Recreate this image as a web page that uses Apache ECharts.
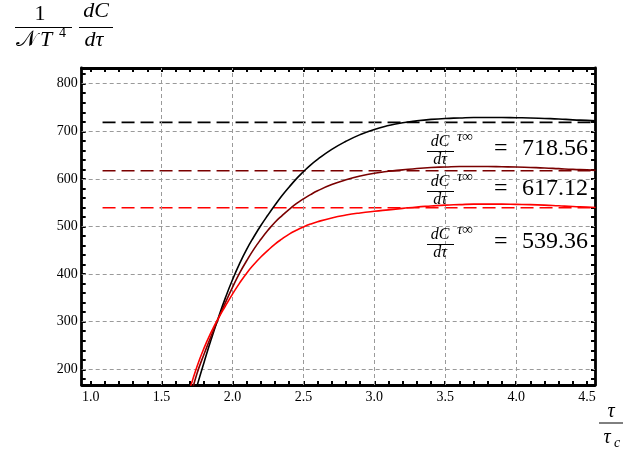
<!DOCTYPE html>
<html>
<head>
<meta charset="utf-8">
<script src="https://cdn.jsdelivr.net/npm/echarts@6/dist/echarts.min.js"></script>
<style>
  html, body { margin: 0; padding: 0; background: #ffffff; }
  #chart { width: 641px; height: 457px; }
</style>
</head>
<body>
<div id="chart"></div>
<script>
// Specific heat slope curves dC/dτ (normalised by N T^4) versus τ/τ_c
const tauSamples = [1.70, 1.75, 1.80, 1.85, 1.90, 1.95, 2.00, 2.05, 2.10, 2.15, 2.20, 2.25, 2.30, 2.35, 2.40, 2.45, 2.50,
                    2.55, 2.60, 2.70, 2.80, 2.90, 3.00, 3.10, 3.20, 3.30, 3.40, 3.50, 3.60, 3.70, 3.80, 3.90, 4.00,
                    4.10, 4.20, 4.30, 4.40, 4.50, 4.56];
const valBlack   = [112, 165, 215, 263, 308, 350, 388, 422, 452, 478, 502, 524, 545, 565, 583, 600, 615,
                    629, 641, 662, 679, 693, 704, 712, 718, 722, 725, 727, 728, 729, 729, 729, 728.5,
                    728, 727, 726, 724, 723, 722];
const valDarkRed = [137, 191, 232, 270, 306, 340, 372, 402, 428, 452, 473, 492, 509, 523, 536, 548, 558,
                    567, 575, 588, 598, 606, 612, 616, 619, 622, 624, 625, 626, 626, 626, 625.5, 625,
                    624, 623, 621.5, 620, 619, 618];
const valRed     = [159, 206, 245, 278, 307, 333, 358, 381, 402, 420, 436, 450, 463, 474, 484, 492, 499,
                    505, 510, 518, 524, 528.5, 532, 535, 538, 541, 543, 545, 546, 547, 547, 547, 546.5,
                    546, 545, 543.5, 542, 541, 540];

// Asymptotic values (τ → ∞), in the same order as the curves
const asymptotes = [718.56, 617.12, 539.36];
const asymptoteTau = [1.084, 4.556];

// Axis ranges and tick values
const tauRange = [0.937, 4.556];
const valRange = [167, 833];
const xLabelValues = [1.0, 1.5, 2.0, 2.5, 3.0, 3.5, 4.0, 4.5];
const yLabelValues = [200, 300, 400, 500, 600, 700, 800];
const xTickValues = [1.0, 1.1, 1.2, 1.3, 1.4, 1.5, 1.6, 1.7, 1.8, 1.9, 2.0, 2.1, 2.2, 2.3, 2.4, 2.5, 2.6, 2.7, 2.8, 2.9, 3.0,
                     3.1, 3.2, 3.3, 3.4, 3.5, 3.6, 3.7, 3.8, 3.9, 4.0, 4.1, 4.2, 4.3, 4.4, 4.5];
const yTickValues = [180, 200, 220, 240, 260, 280, 300, 320, 340, 360, 380, 400, 420, 440, 460, 480, 500, 520, 540, 560,
                     580, 600, 620, 640, 660, 680, 700, 720, 740, 760, 780, 800, 820];
const xGridValues = [1.5, 2.0, 2.5, 3.0, 3.5, 4.0];
const yGridValues = [200, 300, 400, 500, 600, 700, 800];

const colors = ['#000000', '#7a0000', '#ff0000'];
const SERIF = '"Liberation Serif", "DejaVu Serif", serif';

function pairs(xs, ys) { return xs.map((x, i) => [x, ys[i]]); }

function xAxisDef(position, showLabels) {
  return {
    type: 'value', position: position, min: tauRange[0], max: tauRange[1],
    axisLine: { show: true, onZero: false, lineStyle: { color: '#000', width: 2.8 } },
    axisTick: { show: true, inside: true, length: 4, customValues: xTickValues, lineStyle: { color: '#000', width: 2 } },
    axisLabel: { show: showLabels, customValues: xLabelValues, margin: 5, color: '#000',
                 fontFamily: SERIF, fontSize: 14, formatter: v => Number(v).toFixed(1) },
    splitLine: { show: false }
  };
}
function yAxisDef(position, showLabels) {
  return {
    type: 'value', position: position, min: valRange[0], max: valRange[1],
    axisLine: { show: true, onZero: false, lineStyle: { color: '#000', width: 2.8 } },
    axisTick: { show: true, inside: true, length: 4, customValues: yTickValues, lineStyle: { color: '#000', width: 2 } },
    axisLabel: { show: showLabels, customValues: yLabelValues, margin: 4, color: '#000',
                 fontFamily: SERIF, fontSize: 14 },
    splitLine: { show: false }
  };
}

const curveSeries = [valBlack, valDarkRed, valRed].map((vals, i) => ({
  type: 'line', xAxisIndex: 0, yAxisIndex: 0, data: pairs(tauSamples, vals),
  showSymbol: false, smooth: 0.5, clip: true, z: 5,
  lineStyle: { color: colors[i], width: 1.6 }, silent: true
}));

const asymptoteSeries = asymptotes.map((v, i) => ({
  type: 'line', xAxisIndex: 0, yAxisIndex: 0,
  data: asymptoteTau.map(t => [t, v]), showSymbol: false, z: 4,
  lineStyle: { color: colors[i], width: 1.7, type: [13, 6] }, silent: true
}));

const gridSeries = {
  type: 'line', xAxisIndex: 0, yAxisIndex: 0, data: [], silent: true, z: 1,
  markLine: {
    silent: true, symbol: 'none', animation: false, label: { show: false },
    lineStyle: { color: '#9a9a9a', width: 1, type: [4, 3] },
    data: xGridValues.map(v => ({ xAxis: v })).concat(yGridValues.map(v => ({ yAxis: v })))
  }
};

// Math-style annotation blocks: d C / d τ ^{τ∞} = value
const labelBaselines = [157, 197, 250];
const graphics = [];
function txt(x, y, text, size, italic, align) {
  graphics.push({ type: 'text', x: x, y: y, silent: true, z: 10, style: {
    text: text, fill: '#000', font: (italic ? 'italic ' : '') + size + 'px ' + SERIF,
    align: align || 'left', verticalAlign: 'middle' } });
}
function bar(x1, x2, y, w) {
  graphics.push({ type: 'line', silent: true, z: 10, shape: { x1: x1, y1: y, x2: x2, y2: y },
    style: { stroke: '#000', lineWidth: w || 1 } });
}
asymptotes.forEach((v, i) => {
  const B = labelBaselines[i];
  txt(440, B - 15, 'dC', 16, true, 'center');
  bar(427, 454, B - 5.5, 1);
  txt(440, B + 3, 'dτ', 16, true, 'center');
  txt(457, B - 20, 'τ∞', 15, true, 'left');
  txt(494, B - 8, '=', 24, false, 'left');
  txt(588, B - 8, v.toFixed(2), 24, false, 'right');
});
// vertical axis title: 1/(N T^4) dC/dτ
txt(40, 14, '1', 22, false, 'center');
bar(15, 72, 27.5, 1);
txt(16, 40, '𝒩', 22, false, 'left');
txt(40, 40, 'T', 22, true, 'left');
txt(59, 33, '4', 14, false, 'left');
txt(96, 11, 'dC', 22, true, 'center');
bar(79, 113, 27.5, 1);
txt(94, 40, 'dτ', 22, true, 'center');
// horizontal axis title: τ/τ_c
txt(611, 412, 'τ', 20, true, 'center');
bar(599, 623, 423, 1);
txt(607, 438, 'τ', 20, true, 'center');
txt(614, 443, 'c', 14, true, 'left');

const chart = echarts.init(document.getElementById('chart'), null, { renderer: 'canvas' });
chart.setOption({
  animation: false,
  backgroundColor: '#ffffff',
  grid: { left: 81.7, top: 68, right: 46, bottom: 72, containLabel: false },
  xAxis: [xAxisDef('bottom', true), xAxisDef('top', false)],
  yAxis: [yAxisDef('left', true), yAxisDef('right', false)],
  series: [gridSeries].concat(asymptoteSeries, curveSeries),
  graphic: graphics
});
</script>
</body>
</html>
